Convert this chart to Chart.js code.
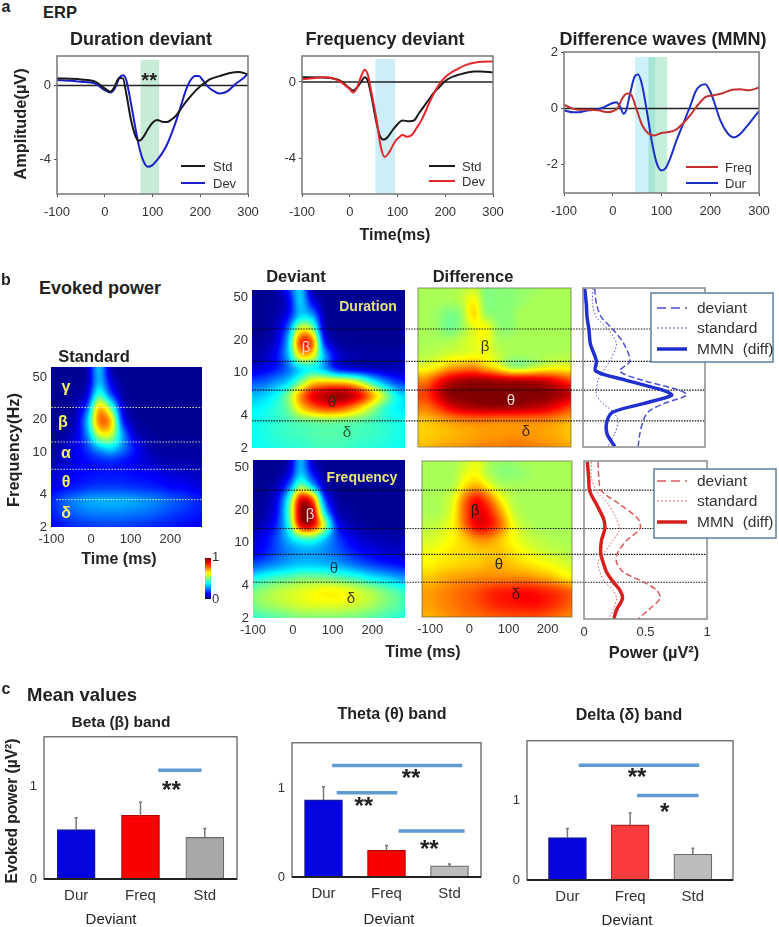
<!DOCTYPE html>
<html>
<head>
<meta charset="utf-8">
<title>ERP and evoked power</title>
<script src="https://cdn.jsdelivr.net/npm/chart.js@4"></script>
<style>
  html, body { margin: 0; padding: 0; background: #fff; }
  #page { position: relative; width: 779px; height: 927px; overflow: hidden; font-family: "Liberation Sans", Arial, sans-serif; color: #222; }
  #page canvas { position: absolute; }
  .lbl { position: absolute; white-space: nowrap; transform: translate(-50%, -50%); z-index: 8; }
</style>
</head>
<body>
<div id="page"></div>
<script>
// ---- ERP curves (panel a)
const durTimes = [-100,-50,-20,0,12,20,30,38,45,55,65,72,80,90,100,110,120,130,140,150,160,170,180,190,200,210,220,240,260,280,300];
const durStd = [.38,.32,.2,-.16,-.34,-.1,.4,.38,-.43,-1.86,-2.76,-2.97,-2.8,-2.37,-2,-1.86,-1.95,-1.97,-1.83,-1.6,-1.24,-.88,-.57,-.29,-.04,.14,.32,.5,.65,.72,.6];
const durDevTimes = [-100,-50,-20,0,12,20,30,38,45,55,65,72,80,90,100,110,120,130,140,150,160,170,180,190,197,205,215,225,240,250,260,275,290,300];
const durDev = [.29,.2,.1,-.25,-.38,-.2,.38,.54,.29,-.97,-2.4,-3.3,-4,-4.37,-4.28,-4,-3.65,-3.2,-2.58,-1.86,-1.06,-.25,.29,.5,.5,.29,-.04,-.25,-.43,-.39,-.25,.1,.38,.65];

const frqStdTimes = [-100,-50,-20,0,7,15,25,31,38,45,55,63,71,80,90,100,110,125,135,145,155,165,175,185,195,205,220,240,260,275,300];
const frqStd = [.24,.22,.07,-.33,-.45,-.3,.05,.24,.05,-.7,-2,-2.8,-3,-2.85,-2.5,-2.2,-2,-2.05,-2,-1.63,-1.28,-.94,-.6,-.33,-.07,.14,.31,.45,.54,.55,.49];
const frqDevTimes = [-100,-50,-20,0,7,15,25,31,38,45,55,65,73,82,95,105,110,120,130,140,150,160,170,180,190,200,210,225,240,255,270,300];
const frqDev = [.14,.24,.02,-.38,-.55,-.3,.36,.63,.36,-.5,-1.8,-3.37,-3.9,-3.68,-3.1,-2.85,-2.76,-2.85,-2.76,-2.4,-2,-1.46,-.9,-.42,-.03,.24,.45,.66,.85,.97,1.04,1.06];

const mmnDurTimes = [-100,-80,-65,-50,-30,-15,0,7,15,22,27,35,45,52,60,70,80,90,100,108,118,130,145,160,170,180,190,200,210,220,235,248,260,275,290,300];
const mmnDur = [-.07,-.14,-.13,-.07,-.03,.07,.19,.22,.07,-.19,-.1,.48,1.13,1.2,.84,-.1,-1.17,-1.93,-2.2,-2.13,-1.76,-1.17,-.52,.13,.6,.81,.86,.6,.13,-.4,-.87,-1.03,-.93,-.64,-.31,-.1];
const mmnFrqTimes = [-100,-85,-70,-50,-30,-10,0,10,20,30,38,48,60,72,85,100,115,130,145,160,175,190,205,225,245,260,280,300];
const mmnFrq = [.13,.01,-.05,-.05,-.07,-.13,-.1,.01,.37,.53,.48,.01,-.58,-.87,-.96,-.87,-.84,-.75,-.52,-.22,.13,.4,.46,.54,.66,.68,.64,.74];

// ---- Time-frequency grids (panel b): rows top to bottom, columns left to right
const heatTimes = [-100,-70,-40,-10,20,50,80,110,140,170,200,230,260,290];
const heatFreqs = [60,45,34,25,19,14.4,10.9,8.2,6.2,4.7,3.5,2.65,2];
const stdGrid = [
  [.02,.02,.02,.03,.34,.03,.02,.02,.02,.02,.02,.02,.02,.02],
  [.02,.02,.02,.04,.32,.1,.02,.02,.02,.02,.02,.02,.02,.02],
  [.02,.02,.03,.08,.45,.2,.03,.02,.02,.02,.02,.02,.02,.02],
  [.02,.02,.04,.2,.72,.5,.08,.02,.02,.02,.02,.02,.02,.02],
  [.02,.02,.05,.3,.78,.72,.15,.03,.02,.02,.02,.02,.02,.02],
  [.02,.03,.08,.25,.6,.6,.28,.07,.03,.02,.02,.02,.02,.02],
  [.04,.06,.1,.18,.3,.36,.26,.14,.06,.03,.03,.03,.03,.03],
  [.05,.07,.1,.13,.15,.16,.14,.11,.08,.05,.04,.04,.04,.04],
  [.08,.1,.12,.13,.14,.14,.14,.13,.12,.11,.09,.08,.07,.06],
  [.1,.13,.15,.17,.18,.18,.18,.17,.16,.15,.13,.12,.1,.09],
  [.16,.22,.26,.29,.3,.3,.3,.29,.27,.25,.22,.2,.17,.15],
  [.15,.19,.22,.24,.25,.25,.25,.24,.23,.21,.19,.17,.15,.14],
  [.12,.14,.16,.17,.18,.18,.18,.17,.16,.15,.14,.13,.12,.11]
];
const devDurGrid = [
  [.02,.02,.03,.15,.35,.03,.02,.02,.02,.02,.02,.02,.02,.02],
  [.02,.02,.03,.08,.35,.12,.02,.02,.02,.02,.02,.02,.02,.02],
  [.02,.02,.04,.12,.33,.3,.04,.02,.02,.02,.02,.02,.02,.02],
  [.02,.02,.06,.22,.62,.55,.06,.02,.02,.02,.02,.02,.02,.02],
  [.02,.03,.08,.3,.85,.82,.15,.03,.02,.02,.02,.02,.02,.02],
  [.03,.06,.12,.3,.68,.66,.3,.1,.05,.04,.03,.03,.03,.03],
  [.07,.1,.14,.22,.33,.36,.28,.12,.07,.06,.05,.05,.05,.05],
  [.2,.22,.27,.33,.48,.65,.68,.68,.66,.56,.4,.27,.18,.15],
  [.3,.33,.38,.5,.74,.9,.96,1,.98,.9,.74,.56,.38,.32],
  [.36,.38,.42,.48,.66,.76,.82,.82,.76,.66,.54,.42,.37,.35],
  [.38,.4,.42,.44,.46,.47,.48,.48,.47,.46,.44,.42,.4,.38],
  [.39,.4,.42,.43,.44,.45,.46,.46,.45,.44,.43,.42,.4,.39],
  [.38,.39,.4,.41,.42,.43,.44,.44,.43,.42,.41,.4,.39,.38]
];
const devFrqGrid = [
  [.02,.02,.02,.04,.32,.05,.02,.02,.02,.02,.02,.02,.02,.02],
  [.02,.02,.02,.08,.33,.12,.02,.02,.02,.02,.02,.02,.02,.02],
  [.02,.02,.05,.2,.5,.3,.05,.02,.02,.02,.02,.02,.02,.02],
  [.02,.03,.1,.4,.92,.8,.18,.03,.02,.02,.02,.02,.02,.02],
  [.02,.04,.12,.45,1,.97,.35,.06,.03,.02,.02,.02,.02,.02],
  [.03,.07,.16,.4,.92,.92,.58,.15,.05,.03,.02,.02,.02,.02],
  [.08,.12,.2,.32,.42,.44,.32,.2,.12,.08,.06,.05,.04,.04],
  [.1,.14,.2,.25,.28,.28,.26,.22,.17,.13,.1,.08,.07,.06],
  [.2,.24,.27,.3,.32,.32,.31,.29,.26,.22,.19,.16,.14,.12],
  [.38,.42,.45,.47,.5,.5,.5,.48,.45,.42,.37,.34,.3,.27],
  [.5,.53,.56,.58,.6,.62,.64,.64,.62,.58,.55,.5,.46,.42],
  [.5,.53,.55,.57,.59,.6,.6,.6,.59,.57,.54,.5,.47,.44],
  [.42,.44,.46,.48,.5,.5,.5,.5,.49,.48,.46,.44,.42,.4]
];
const diffDurGrid = [
  [.54,.54,.54,.55,.57,.5,.51,.51,.52,.52,.54,.54,.54,.54],
  [.54,.54,.54,.56,.64,.5,.51,.51,.52,.54,.54,.54,.54,.54],
  [.54,.52,.49,.52,.68,.52,.51,.51,.54,.54,.54,.54,.54,.54],
  [.54,.52,.48,.52,.6,.63,.52,.51,.54,.54,.54,.54,.54,.54],
  [.54,.54,.54,.57,.6,.62,.54,.54,.54,.54,.54,.54,.54,.54],
  [.55,.56,.58,.59,.6,.61,.57,.54,.54,.54,.54,.54,.55,.55],
  [.6,.64,.7,.72,.74,.68,.62,.52,.5,.54,.58,.6,.6,.58],
  [.75,.85,.93,.97,.98,.98,.97,.96,.96,.95,.93,.88,.82,.78],
  [.82,.92,1,1,1,1,1,1,1,1,1,.98,.95,.9],
  [.76,.82,.9,.95,.97,.98,.98,.98,.97,.95,.93,.88,.82,.78],
  [.68,.7,.72,.74,.75,.75,.74,.74,.74,.74,.74,.72,.7,.68],
  [.67,.68,.69,.7,.71,.72,.72,.73,.73,.72,.71,.7,.68,.67],
  [.69,.71,.72,.73,.74,.75,.75,.76,.76,.75,.74,.73,.71,.69]
];
const diffFrqGrid = [
  [.54,.54,.54,.57,.61,.54,.52,.52,.54,.54,.54,.54,.54,.54],
  [.54,.54,.54,.6,.62,.54,.51,.51,.52,.54,.54,.54,.54,.54],
  [.54,.54,.55,.66,.7,.62,.55,.54,.54,.54,.54,.54,.54,.54],
  [.54,.55,.6,.78,.88,.78,.63,.55,.54,.54,.54,.54,.54,.54],
  [.54,.55,.62,.8,.9,.86,.72,.58,.54,.54,.54,.54,.54,.54],
  [.56,.58,.63,.78,.9,.88,.78,.62,.56,.54,.54,.54,.54,.54],
  [.58,.6,.63,.68,.74,.74,.68,.62,.58,.56,.55,.54,.54,.54],
  [.61,.63,.65,.66,.67,.68,.68,.65,.62,.59,.57,.56,.55,.54],
  [.63,.65,.66,.67,.68,.7,.7,.68,.66,.64,.62,.6,.58,.57],
  [.68,.7,.72,.73,.74,.74,.74,.74,.74,.72,.7,.66,.63,.61],
  [.72,.74,.76,.78,.8,.83,.85,.86,.87,.86,.84,.82,.78,.74],
  [.72,.74,.76,.78,.8,.83,.85,.86,.87,.87,.85,.82,.78,.74],
  [.7,.72,.74,.76,.77,.78,.79,.8,.8,.8,.78,.76,.74,.72]
];
const colorbarLevels = [1,.875,.75,.625,.5,.375,.25,.125,0];

// band edges in Hz
const stdEdges = [26,12.4,6.9,3.6];
const durEdges = [25.6,12.8,6.9,3.57];
const frqEdges = [31,13.6,7.8,4.3];

// ---- Power spectra (panel b, right column)
const durPowerFreqs = [59.7,43.3,32.5,24.8,18.4,12.6,10.2,8.36,6.74,6.06,5.07,4.24,3.49,2.66,2.03];
const durMmnPower = [.014,.027,.033,.049,.06,.11,.104,.356,.658,.726,.493,.247,.197,.197,.26];
const durDevPower = [.096,.11,.15,.247,.334,.384,.3,.49,.795,.85,.66,.534,.493,.466,.452];
const durStdPower = [.082,.077,.11,.205,.274,.22,.164,.123,.11,.11,.164,.247,.288,.26,.205];
const frqPowerFreqs = [59.3,42.4,31.8,23.9,17.3,14,10.9,8.18,6.84,5.52,4.46,3.72,3.12,2.43,2];
const frqMmnPower = [.027,.038,.046,.1,.16,.169,.142,.136,.155,.183,.237,.292,.313,.264,.243];
const frqDevPower = [.114,.12,.142,.29,.44,.455,.346,.27,.264,.319,.482,.59,.62,.523,.44];
const frqStdPower = [.06,.06,.1,.196,.264,.29,.237,.155,.114,.128,.169,.237,.264,.237,.196];

// ---- Mean values (panel c)
const barLabels = ['Dur','Freq','Std'];
const betaMeans = [.535,.69,.45];
const betaErrTops = [.663,.83,.546];
const thetaMeans = [.87,.3,.125];
const thetaErrTops = [1.02,.357,.147];
const deltaMeans = [.53,.69,.322];
const deltaErrTops = [.645,.837,.396];

const FONT = '"Liberation Sans", Arial, sans-serif';
const page = document.getElementById('page');
Chart.defaults.animation = false;
Chart.defaults.responsive = false;
Chart.defaults.font.family = FONT;
Chart.defaults.color = '#333';
Chart.defaults.plugins.legend.display = false;
Chart.defaults.plugins.tooltip.enabled = false;

function zip(xs, ys) { return xs.map((x, i) => ({ x, y: ys[i] })); }

function label(text, cx, cy, size, opts = {}) {
  const el = document.createElement('div');
  el.className = 'lbl';
  el.textContent = text;
  el.style.left = cx + 'px';
  el.style.top = cy + 'px';
  el.style.fontSize = size + 'px';
  el.style.fontWeight = opts.normal ? 'normal' : 'bold';
  if (opts.color) el.style.color = opts.color;
  if (opts.rotate) el.style.transform = 'translate(-50%,-50%) rotate(-90deg)';
  page.appendChild(el);
}

// box is the plot area in page pixels, m the room kept around it for the axes
function plotChart(box, cfg, m, z) {
  const canvas = document.createElement('canvas');
  canvas.width = box.x1 - box.x0 + m.l + m.r;
  canvas.height = box.y1 - box.y0 + m.t + m.b;
  canvas.style.left = (box.x0 - m.l) + 'px';
  canvas.style.top = (box.y0 - m.t) + 'px';
  canvas.style.zIndex = z || 1;
  page.appendChild(canvas);
  const sx = cfg.options.scales.x, sy = cfg.options.scales.y;
  const yRight = sy.position === 'right';
  sx.afterFit = s => { s.height = m.b; };
  sy.afterFit = s => { s.width = yRight ? m.r : m.l; };
  cfg.options.layout = { padding: {
    top: m.t,
    left: (sy.display === false || yRight) ? m.l : 0,
    right: (yRight && sy.display !== false) ? 0 : m.r,
    bottom: sx.display === false ? m.b : 0
  } };
  return new Chart(canvas, cfg);
}

function fixedTicks(vals) { return s => { s.ticks = vals.map(value => ({ value })); }; }

function jet(v) {
  const c = t => Math.round(255 * Math.max(0, Math.min(1, 1.5 - Math.abs(4 * v - t))));
  return [c(3), c(2), c(1)];
}

// values go to a gray image, get upscaled, then the jet colours are applied
function heatPlugin(grid, times, rows) {
  return {
    id: 'heat',
    beforeDatasetsDraw(chart) {
      const { ctx, chartArea: a, scales: { x, y } } = chart;
      const nr = grid.length, nc = grid[0].length;
      const small = document.createElement('canvas');
      small.width = nc; small.height = nr;
      const sc = small.getContext('2d');
      grid.forEach((row, r) => row.forEach((v, c) => {
        const g = Math.round(v * 255);
        sc.fillStyle = `rgb(${g},${g},${g})`;
        sc.fillRect(c, r, 1, 1);
      }));
      const cw = (x.getPixelForValue(times[nc - 1]) - x.getPixelForValue(times[0])) / (nc - 1);
      const ch = (y.getPixelForValue(rows[nr - 1]) - y.getPixelForValue(rows[0])) / (nr - 1);
      const left = x.getPixelForValue(times[0]) - cw / 2, top = y.getPixelForValue(rows[0]) - ch / 2;
      const w = Math.round(a.right - a.left), h = Math.round(a.bottom - a.top);
      const off = document.createElement('canvas');
      off.width = w; off.height = h;
      const oc = off.getContext('2d', { willReadFrequently: true });
      oc.imageSmoothingEnabled = true;
      oc.imageSmoothingQuality = 'high';
      oc.drawImage(small, 0, 0, 1, nr, 0, top - a.top, left - a.left + 1, ch * nr);
      oc.drawImage(small, left - a.left, top - a.top, cw * nc, ch * nr);
      const img = oc.getImageData(0, 0, w, h);
      for (let i = 0; i < img.data.length; i += 4) {
        const [r, g, b] = jet(img.data[i] / 255);
        img.data[i] = r; img.data[i + 1] = g; img.data[i + 2] = b; img.data[i + 3] = 255;
      }
      oc.putImageData(img, 0, 0);
      ctx.drawImage(off, a.left, a.top);
    }
  };
}

function framePlugin(color, lw, bottomColor, bottomLw) {
  return {
    id: 'frame',
    afterDatasetsDraw(chart) {
      const { ctx, chartArea: a } = chart;
      ctx.save();
      ctx.strokeStyle = color;
      ctx.lineWidth = lw;
      ctx.strokeRect(a.left, a.top, a.right - a.left, a.bottom - a.top);
      if (bottomColor) {
        ctx.strokeStyle = bottomColor;
        ctx.lineWidth = bottomLw;
        ctx.beginPath(); ctx.moveTo(a.left, a.bottom); ctx.lineTo(a.right, a.bottom); ctx.stroke();
      }
      ctx.restore();
    }
  };
}

// shaded time windows
function bandPlugin(bands) {
  return {
    id: 'bands',
    beforeDatasetsDraw(chart) {
      const { ctx, chartArea: a, scales: { x } } = chart;
      bands.forEach(b => {
        ctx.fillStyle = b.color;
        const top = a.top + b.inset;
        ctx.fillRect(x.getPixelForValue(b.from), top, x.getPixelForValue(b.to) - x.getPixelForValue(b.from), a.bottom - top);
      });
    }
  };
}

// significance bars and stars, in data coordinates
function sigPlugin(bars, stars, size) {
  return {
    id: 'sig',
    afterDatasetsDraw(chart) {
      const { ctx, scales: { x, y } } = chart;
      ctx.save();
      ctx.strokeStyle = '#5f9bd1';
      ctx.lineWidth = 3.5;
      bars.forEach(b => {
        ctx.beginPath();
        ctx.moveTo(x.getPixelForValue(b[0]), y.getPixelForValue(b[2]));
        ctx.lineTo(x.getPixelForValue(b[1]), y.getPixelForValue(b[2]));
        ctx.stroke();
      });
      ctx.fillStyle = '#222';
      ctx.font = `bold ${size}px ${FONT}`;
      ctx.textAlign = 'center';
      ctx.textBaseline = 'middle';
      stars.forEach(s => ctx.fillText(s[2], x.getPixelForValue(s[0]), y.getPixelForValue(s[1]) + size * .12));
      ctx.restore();
    }
  };
}

function errPlugin(tops) {
  return {
    id: 'err',
    beforeDatasetsDraw(chart) {
      const { ctx, scales: { x, y } } = chart;
      const means = chart.data.datasets[0].data;
      ctx.save();
      ctx.strokeStyle = '#777';
      ctx.lineWidth = 1.5;
      tops.forEach((t, i) => {
        const px = x.getPixelForValue(means[i].x);
        ctx.beginPath();
        ctx.moveTo(px, y.getPixelForValue(means[i].y));
        ctx.lineTo(px, y.getPixelForValue(t));
        ctx.moveTo(px - 1.5, y.getPixelForValue(t));
        ctx.lineTo(px + 1.5, y.getPixelForValue(t));
        ctx.stroke();
      });
      ctx.restore();
    }
  };
}

// legend placed by hand in page pixels, labels and styles come from the datasets
function legendPlugin(o) {
  return {
    id: 'legendBox',
    afterDraw(chart) {
      const { ctx, canvas } = chart;
      const ox = canvas.offsetLeft, oy = canvas.offsetTop;
      ctx.save();
      if (o.box) {
        ctx.fillStyle = '#fff';
        ctx.strokeStyle = '#5b7f9e';
        ctx.lineWidth = 1.5;
        ctx.fillRect(o.box[0] - ox, o.box[1] - oy, o.box[2], o.box[3]);
        ctx.strokeRect(o.box[0] - ox, o.box[1] - oy, o.box[2], o.box[3]);
      }
      ctx.font = `${o.size}px ${FONT}`;
      ctx.textBaseline = 'middle';
      o.items.forEach((idx, i) => {
        const ds = chart.data.datasets[idx];
        const y = o.rows[i] - oy;
        ctx.strokeStyle = ds.borderColor;
        ctx.lineWidth = ds.borderWidth;
        ctx.setLineDash(o.dashes ? o.dashes[i] : []);
        ctx.beginPath(); ctx.moveTo(o.x0 - ox, y); ctx.lineTo(o.x1 - ox, y); ctx.stroke();
        ctx.setLineDash([]);
        ctx.fillStyle = '#333';
        ctx.fillText(ds.label, o.tx - ox, y + 1);
      });
      ctx.restore();
    }
  };
}

function curve(lbl, data, color, width) {
  return { label: lbl, data, borderColor: color, borderWidth: width, pointRadius: 0, tension: .35, cubicInterpolationMode: 'monotone', fill: false };
}

function erpChart(box, ymin, ymax, yticks, series, plugins) {
  const zero = { label: 'zero', data: [{ x: -100, y: 0 }, { x: 300, y: 0 }], borderColor: '#222', borderWidth: 1.5, pointRadius: 0 };
  return plotChart(box, {
    type: 'line',
    data: { datasets: series.concat([zero]) },
    plugins,
    options: { scales: {
      x: { type: 'linear', min: -100, max: 300, afterBuildTicks: fixedTicks([-100,0,100,200,300]),
        grid: { drawOnChartArea: false, tickLength: 3, color: '#555' }, border: { display: false },
        ticks: { font: { size: 13 }, padding: 8, maxRotation: 0, autoSkip: false } },
      y: { type: 'linear', min: ymin, max: ymax, afterBuildTicks: fixedTicks(yticks),
        grid: { drawOnChartArea: false, tickLength: 3, color: '#555' }, border: { display: false },
        ticks: { font: { size: 13 }, padding: 3, autoSkip: false } }
    } }
  }, { l: 40, r: 25, t: 12, b: 30 });
}

// panel a
erpChart({ x0: 57, x1: 248, y0: 56, y1: 194 }, -5.83, 1.58, [0, -4],
  [curve('Std', zip(durTimes, durStd), '#1a1a1a', 2), curve('Dev', zip(durDevTimes, durDev), '#1b1fc8', 2)],
  [bandPlugin([{ from: 75, to: 114, color: '#c6ecd7', inset: 4 }]), framePlugin('#777', 1.5),
   sigPlugin([], [[93, .32, '**']], 20),
   legendPlugin({ items: [0, 1], x0: 181, x1: 205, tx: 213, rows: [166, 183], size: 13 })]);
erpChart({ x0: 302, x1: 493, y0: 56, y1: 194 }, -5.83, 1.35, [0, -4],
  [curve('Std', zip(frqStdTimes, frqStd), '#1a1a1a', 2), curve('Dev', zip(frqDevTimes, frqDev), '#e8262a', 2)].reverse(),
  [bandPlugin([{ from: 53.5, to: 95.5, color: '#cdeef7', inset: 3 }]), framePlugin('#777', 1.5),
   legendPlugin({ items: [1, 0], x0: 429, x1: 455, tx: 462, rows: [166, 181], size: 13 })]);
erpChart({ x0: 564, x1: 759, y0: 52, y1: 193 }, -3, 2, [2, 0, -2],
  [curve('Freq', zip(mmnFrqTimes, mmnFrq), '#c43030', 2), curve('Dur', zip(mmnDurTimes, mmnDur), '#1b2fc8', 2)],
  [bandPlugin([{ from: 46, to: 87, color: 'rgba(130,220,240,.4)', inset: 5 }, { from: 73, to: 112, color: 'rgba(110,215,165,.4)', inset: 5 }]),
   framePlugin('#777', 1.5),
   legendPlugin({ items: [0, 1], x0: 686, x1: 718, tx: 725, rows: [167, 183], size: 13 })]);

// panel b heat maps
function heatChart(box, tMin, tMax, fMax, grid, showTime, edges, plugins) {
  const datasets = edges.map(e => ({
    data: [{ x: e.from, y: e.hz }, { x: tMax, y: e.hz }],
    borderColor: e.color, borderWidth: 1, borderDash: [1.5, 1.5], pointRadius: 0, showLine: true
  }));
  return plotChart(box, {
    type: 'scatter',
    data: { datasets },
    plugins: [heatPlugin(grid, heatTimes, heatFreqs)].concat(plugins || []),
    options: { scales: {
      x: { type: 'linear', min: tMin, max: tMax, afterBuildTicks: fixedTicks([-100,0,100,200]),
        grid: { display: false, drawTicks: false }, border: { display: false },
        ticks: { display: showTime, font: { size: 13 }, padding: 5, maxRotation: 0, autoSkip: false } },
      y: { type: 'logarithmic', min: 2, max: fMax, afterBuildTicks: fixedTicks(box.yLabels ? [2,4,10,20,50] : []),
        grid: { display: false, drawTicks: false }, border: { display: false },
        ticks: { display: !!box.yLabels, font: { size: 13 }, padding: 4, autoSkip: false, callback: v => v } }
    } }
  }, { l: 40, r: 25, t: 12, b: 30 });
}

heatChart({ x0: 51, x1: 202, y0: 367, y1: 527, yLabels: true }, -101, 280, 62, stdGrid, true,
  stdEdges.map((hz, i) => ({ hz, from: i === 3 ? -88 : -100, color: 'rgba(255,255,190,.85)' })));
heatChart({ x0: 252, x1: 405, y0: 290, y1: 448, yLabels: true }, -100, 282, 59, devDurGrid, false, []);
heatChart({ x0: 253, x1: 405, y0: 460, y1: 618, yLabels: true }, -100, 282, 59, devFrqGrid, true, []);
heatChart({ x0: 418, x1: 571, y0: 288, y1: 447 }, -120, 265, 59, diffDurGrid, false, [], [framePlugin('rgba(90,90,60,.55)', 1.2)]);
heatChart({ x0: 422, x1: 572, y0: 461, y1: 617 }, -121, 262, 59, diffFrqGrid, true, [], [framePlugin('rgba(90,90,60,.55)', 1.2)]);

// colour bar
plotChart({ x0: 205, x1: 211, y0: 557, y1: 607 }, {
  type: 'scatter',
  data: { datasets: [] },
  plugins: [heatPlugin(colorbarLevels.map(v => [v, v]), [0, 1], colorbarLevels)],
  options: { scales: {
    x: { type: 'linear', min: 0, max: 1, display: false },
    y: { type: 'linear', position: 'right', min: 0, max: 1, afterBuildTicks: fixedTicks([0, 1]),
      grid: { display: false, drawTicks: false }, border: { display: false },
      ticks: { font: { size: 13 }, padding: 1 } }
  } }
}, { l: 2, r: 16, t: 8, b: 8 }, 2);

// dotted band edges run across the deviant, difference and spectrum panels
function edgeOverlay(box, edges) {
  plotChart(box, {
    type: 'scatter',
    data: { datasets: edges.map(hz => ({
      data: [{ x: 0, y: hz }, { x: 1, y: hz }],
      borderColor: 'rgba(10,10,10,.95)', borderWidth: 1.2, borderDash: [1.5, 1.2], pointRadius: 0, showLine: true
    })) },
    options: { scales: {
      x: { type: 'linear', min: 0, max: 1, display: false },
      y: { type: 'logarithmic', min: 2, max: 59, display: false }
    } }
  }, { l: 0, r: 0, t: 0, b: 0 }, 2);
}
edgeOverlay({ x0: 252, x1: 705, y0: 290, y1: 448 }, durEdges);
edgeOverlay({ x0: 253, x1: 707, y0: 460, y1: 618 }, frqEdges);

// spectra
function powerChart(box, fMax, showTicks, freqs, mmn, dev, std, main, soft, legendOpts) {
  const line = (lbl, vals, color, width, dash) => ({
    label: lbl, data: vals.map((x, i) => ({ x, y: freqs[i] })), borderColor: color, borderWidth: width,
    borderDash: dash, pointRadius: 0, showLine: true, tension: .3
  });
  return plotChart(box, {
    type: 'scatter',
    data: { datasets: [line('standard', std, soft, 1, [1.5, 2]), line('deviant', dev, soft, 1.5, [6, 3]), line('MMN  (diff)', mmn, main, 3.5, [])] },
    plugins: [framePlugin('#8a8a8a', 1.5), legendPlugin(legendOpts)],
    options: { scales: {
      x: { type: 'linear', min: 0, max: 1, afterBuildTicks: fixedTicks([0, .5, 1]),
        grid: { display: false, drawTicks: false }, border: { display: false },
        ticks: { display: showTicks, font: { size: 13 }, padding: 6, maxRotation: 0, autoSkip: false, callback: v => String(v) } },
      y: { type: 'logarithmic', min: 2, max: fMax, afterBuildTicks: fixedTicks([]),
        grid: { display: false, drawTicks: false }, border: { display: false }, ticks: { display: false } }
    } }
  }, { l: 20, r: 779 - box.x1, t: 12, b: 30 }, 3);
}
const legendDashes = [[9, 5], [2, 2], []];
powerChart({ x0: 583, x1: 705, y0: 288, y1: 447 }, 60.6, false, durPowerFreqs, durMmnPower, durDevPower, durStdPower, '#1f2fd0', '#4a52cf',
  { box: [651, 293, 122, 69], items: [1, 0, 2], x0: 657, x1: 687, tx: 697, rows: [308, 328, 349], size: 15.5, dashes: legendDashes });
powerChart({ x0: 584, x1: 707, y0: 461, y1: 619 }, 60.6, true, frqPowerFreqs, frqMmnPower, frqDevPower, frqStdPower, '#d81f1f', '#dc5a5a',
  { box: [654, 469, 122, 69], items: [1, 0, 2], x0: 657, x1: 687, tx: 697, rows: [481, 501, 522], size: 15.5, dashes: legendDashes });

// panel c
function barChart(box, xMin, xMax, yMax, yticks, means, tops, colors, borders, bars, stars) {
  return plotChart(box, {
    type: 'bar',
    data: { datasets: [{
      data: means.map((y, x) => ({ x, y })),
      backgroundColor: colors, borderColor: borders, borderWidth: 1.2, barThickness: 38, grouped: false
    }] },
    plugins: [errPlugin(tops), framePlugin('#555', 1.2, '#222', 2), sigPlugin(bars, stars, 24)],
    options: { scales: {
      x: { type: 'linear', offset: false, min: xMin, max: xMax, afterBuildTicks: fixedTicks([0, 1, 2]),
        grid: { display: false, drawTicks: false }, border: { display: false },
        ticks: { font: { size: 15 }, padding: 8, maxRotation: 0, autoSkip: false, callback: v => barLabels[v] } },
      y: { type: 'linear', min: 0, max: yMax, afterBuildTicks: fixedTicks(yticks),
        grid: { display: false, drawTicks: false }, border: { display: false },
        ticks: { font: { size: 13 }, padding: 7, autoSkip: false } }
    } }
  }, { l: 40, r: 25, t: 12, b: 34 });
}
barChart({ x0: 44, x1: 237, y0: 734, y1: 879 }, -.5, 2.5, 1.54, [0, 1], betaMeans, betaErrTops,
  ['#0505e0', '#fa0000', '#a8a8a8'], ['#1c1c90', '#b00000', '#6a6a6a'],
  [[1.276, 1.95, 1.177]], [[1.48, .98, '**']]);
barChart({ x0: 292, x1: 481, y0: 740, y1: 877 }, -.5, 2.5, 1.515, [0, 1], thetaMeans, thetaErrTops,
  ['#0505e0', '#fa0000', '#bcbcbc'], ['#1c1c90', '#b00000', '#6a6a6a'],
  [[.137, 2.2, 1.26], [.21, 1.17, .952], [1.19, 2.24, .518]],
  [[1.39, 1.13, '**'], [.64, .816, '**'], [1.68, .338, '**']]);
barChart({ x0: 527, x1: 733, y0: 738, y1: 880 }, -.645, 2.64, 1.74, [0, 1], deltaMeans, deltaErrTops,
  ['#0505e0', '#fb3c3c', '#bcbcbc'], ['#1c1c90', '#a82020', '#6a6a6a'],
  [[.18, 2.1, 1.433], [1.11, 2.09, 1.057]], [[1.11, 1.306, '**'], [1.55, .87, '*']]);

// text
label('a', 6, 7, 16);
label('ERP', 60, 12, 16.5);
label('Duration deviant', 141, 39, 18);
label('Frequency deviant', 385, 39, 18);
label('Difference waves (MMN)', 663, 39, 18);
label('Amplitude(µV)', 20, 124, 16.4, { rotate: true });
label('Time(ms)', 395, 235, 16);

label('b', 6, 280, 16);
label('Evoked power', 100, 288, 18);
label('Deviant', 296, 276, 16.5);
label('Difference', 473, 276, 16.5);
label('Standard', 94, 356, 16.5);
label('Frequency(Hz)', 13, 450, 16.4, { rotate: true });
label('Time (ms)', 119, 559, 16);
label('Time (ms)', 423, 652, 16);
label('Power (µV²)', 654, 652, 16.4);

const yellow = '#f3ee6c';
[['γ', 66, 387], ['β', 63, 422], ['α', 66, 453], ['θ', 66, 482], ['δ', 66, 513]].forEach(b => label(b[0], b[1], b[2], 16, { color: yellow }));
label('Duration', 368, 306, 14, { color: '#e8e27a' });
label('Frequency', 362, 477, 14, { color: '#e8e27a' });
label('β', 306, 346, 15, { normal: true, color: '#f6d8c8' });
label('θ', 332, 401, 15, { normal: true, color: '#402020' });
label('δ', 347, 431, 15, { normal: true, color: '#1f5f30' });
label('β', 310, 513, 15, { normal: true, color: '#f6d8d0' });
label('θ', 334, 567, 15, { normal: true, color: '#123a55' });
label('δ', 351, 597, 15, { normal: true, color: '#443a10' });
label('β', 485, 345, 15, { normal: true, color: '#3a3a10' });
label('θ', 511, 399, 15, { normal: true, color: '#f6d8d0' });
label('δ', 526, 430, 15, { normal: true, color: '#4a2a10' });
label('β', 475, 509, 15, { normal: true, color: '#2a1010' });
label('θ', 499, 563, 15, { normal: true, color: '#2a2a10' });
label('δ', 516, 593, 15, { normal: true, color: '#4a1010' });

label('c', 6, 689, 16);
label('Mean values', 82, 695, 18.5);
label('Beta (β)  band', 121, 722, 15.5);
label('Theta (θ)  band', 392, 714, 16);
label('Delta (δ)  band', 629, 715, 16);
label('Evoked  power (µV²)', 12, 811, 15.6, { rotate: true });
label('Deviant', 111, 918, 15, { normal: true });
label('Deviant', 389, 918, 15, { normal: true });
label('Deviant', 627, 919, 15, { normal: true });
</script>
</body>
</html>
